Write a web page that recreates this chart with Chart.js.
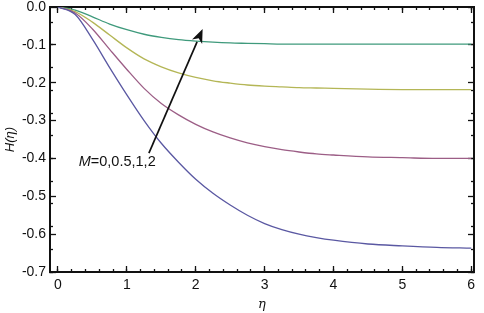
<!DOCTYPE html>
<html>
<head>
<meta charset="utf-8">
<script src="https://cdn.jsdelivr.net/npm/chart.js@4/dist/chart.umd.min.js"></script>
<style>
html,body{margin:0;padding:0;background:#fff;}
#wrap{width:484px;height:313px;position:relative;}
</style>
</head>
<body>
<div id="wrap"><canvas id="c" width="484" height="313"></canvas></div>
<script>
const eta   = [0,0.25,0.5,0.75,1,1.25,1.5,1.75,2,2.25,2.5,2.75,3,3.25,3.5,3.75,4,4.5,5,5.5,6];
const hM0   = [0,-0.02,-0.085,-0.16,-0.232,-0.30,-0.36,-0.41,-0.455,-0.492,-0.523,-0.55,-0.572,-0.588,-0.6,-0.609,-0.616,-0.626,-0.631,-0.635,-0.637];
const hM05  = [0,-0.016,-0.058,-0.112,-0.165,-0.215,-0.255,-0.285,-0.31,-0.33,-0.346,-0.359,-0.369,-0.377,-0.383,-0.388,-0.391,-0.396,-0.398,-0.4,-0.4];
const hM1   = [0,-0.012,-0.04,-0.074,-0.108,-0.137,-0.158,-0.174,-0.186,-0.195,-0.201,-0.206,-0.209,-0.211,-0.213,-0.214,-0.215,-0.217,-0.218,-0.218,-0.218];
const hM2   = [0,-0.008,-0.026,-0.045,-0.06,-0.072,-0.08,-0.086,-0.09,-0.093,-0.095,-0.096,-0.097,-0.098,-0.098,-0.098,-0.098,-0.098,-0.098,-0.098,-0.098];
const seriesLabels = ['M=0','M=0.5','M=1','M=2'];
const xTickLabels = ['0','1','2','3','4','5','6'];
const yTickLabels = ['0.0','-0.1','-0.2','-0.3','-0.4','-0.5','-0.6','-0.7'];
const annotationText = ['M','=0,0.5,1,2'];
const arrowFrom = {x:1.32, y:-0.386};
const arrowTo   = {x:2.10, y:-0.058};
const textAt    = {x:0.86, y:-0.41};
const X_MIN = -0.116, X_MAX = 6.04, Y_MIN = -0.7, Y_MAX = 0;
const X_MINOR_STEP = 0.2, Y_MINOR_STEP = 0.02;

const colors = ['#5a58a2','#9c5e86','#b4b656','#3f9a7c'];
const allSeries = [hM0,hM05,hM1,hM2];

const datasets = allSeries.map((arr,i)=>({
  label: seriesLabels[i],
  data: eta.map((e,j)=>({x:e,y:arr[j]})),
  borderColor: colors[i],
  borderWidth: 1.3,
  pointRadius: 0,
  fill: false,
  cubicInterpolationMode: 'monotone',
  xAxisID: 'x',
  yAxisID: 'y'
}));

const FONT = '"Liberation Sans", Arial, sans-serif';

function minorList(lo, hi, step){
  const out = [];
  const n0 = Math.ceil(lo/step - 1e-9), n1 = Math.floor(hi/step + 1e-9);
  for(let n=n0;n<=n1;n++) out.push({value: +(n*step).toFixed(4)});
  return out;
}

function zeroPad(s){ s.paddingTop = 0; s.paddingBottom = 0; s.paddingLeft = 0; s.paddingRight = 0; }

function axis(o){
  const base = {
    type:'linear',
    grid:{display:true, drawOnChartArea:false, drawTicks:true, tickLength:o.len, tickWidth:1.3, tickColor:'#111'},
    border:{display:!!o.border, width:2, color:'#111'},
    ticks:{color:'#111', font:{family:FONT, size:14}, padding:o.pad||0, maxRotation:0,
      callback:o.cb || (()=>'')},
    position:o.position,
    weight:o.weight||0,
    min:o.min, max:o.max,
    afterBuildTicks:o.build,
    afterFit:(s)=>{ o.fit(s); zeroPad(s); }
  };
  if(o.title) base.title = o.title;
  return base;
}

const labelFor = (list)=> (v)=>{ const i = list.findIndex(t=>Math.abs(parseFloat(t)-v)<1e-9); return i>=0?list[i]:''; };

const decor = {
  id:'decor',
  afterDraw(chart){
    const ctx = chart.ctx, xs = chart.scales.x, ys = chart.scales.y;
    ctx.save();
    ctx.strokeStyle = '#111'; ctx.fillStyle = '#111';
    const x1 = xs.getPixelForValue(arrowFrom.x), y1 = ys.getPixelForValue(arrowFrom.y);
    const x2 = xs.getPixelForValue(arrowTo.x), y2 = ys.getPixelForValue(arrowTo.y);
    const ang = Math.atan2(y2-y1,x2-x1);
    const hl = 14, hw = 5.5;
    const bx = x2 - hl*Math.cos(ang), by = y2 - hl*Math.sin(ang);
    ctx.lineWidth = 1.7;
    ctx.beginPath(); ctx.moveTo(x1,y1); ctx.lineTo(bx,by); ctx.stroke();
    ctx.beginPath();
    ctx.moveTo(x2,y2);
    ctx.lineTo(bx + hw*Math.sin(ang), by - hw*Math.cos(ang));
    ctx.lineTo(x2 - (hl-4)*Math.cos(ang), y2 - (hl-4)*Math.sin(ang));
    ctx.lineTo(bx - hw*Math.sin(ang), by + hw*Math.cos(ang));
    ctx.closePath(); ctx.fill();
    const tx = xs.getPixelForValue(textAt.x), ty = ys.getPixelForValue(textAt.y);
    ctx.textBaseline = 'middle';
    const f1 = 'italic 14.5px ' + FONT, f2 = '14.5px ' + FONT;
    ctx.font = f1; const w1 = ctx.measureText(annotationText[0]).width;
    ctx.font = f2; const w2 = ctx.measureText(annotationText[1]).width;
    const sx = tx - (w1+w2)/2;
    ctx.font = f1; ctx.fillText(annotationText[0], sx, ty);
    ctx.font = f2; ctx.fillText(annotationText[1], sx+w1, ty);
    ctx.restore();
  }
};

new Chart(document.getElementById('c'),{
  type:'line',
  data:{datasets},
  options:{
    responsive:false,
    animation:false,
    events:[],
    layout:{padding:{left:0,right:10,top:7,bottom:0}},
    plugins:{legend:{display:false},tooltip:{enabled:false}},
    scales:{
      x: axis({position:'bottom', weight:1, len:-6, border:true, pad:11, min:X_MIN, max:X_MAX,
        build:(s)=>{ s.ticks = xTickLabels.map(t=>({value:parseFloat(t)})); },
        fit:(s)=>{ s.height = 41; },
        cb: labelFor(xTickLabels),
        title:{display:true, text:'η', color:'#111', padding:{top:2,bottom:1},
          font:{family:'"DejaVu Serif", "Liberation Serif", serif', size:13, style:'italic'}}}),
      xMinor: axis({position:'bottom', weight:0, len:-3, min:X_MIN, max:X_MAX,
        build:(s)=>{ s.ticks = minorList(X_MIN, X_MAX, X_MINOR_STEP); },
        fit:(s)=>{ s.height = 0; }}),
      xTop: axis({position:'top', weight:1, len:-6, border:true, min:X_MIN, max:X_MAX,
        build:(s)=>{ s.ticks = xTickLabels.map(t=>({value:parseFloat(t)})); },
        fit:(s)=>{ s.height = 0; }}),
      xTopMinor: axis({position:'top', weight:0, len:-3, min:X_MIN, max:X_MAX,
        build:(s)=>{ s.ticks = minorList(X_MIN, X_MAX, X_MINOR_STEP); },
        fit:(s)=>{ s.height = 0; }}),
      y: axis({position:'left', weight:1, len:-6, border:true, pad:10, min:Y_MIN, max:Y_MAX,
        build:(s)=>{ s.ticks = yTickLabels.map(t=>({value:parseFloat(t)})); },
        fit:(s)=>{ s.width = 50; },
        cb: labelFor(yTickLabels),
        title:{display:true, text:'H(η)', color:'#111', padding:{top:3,bottom:0},
          font:{family:FONT, size:13, style:'italic'}}}),
      yMinor: axis({position:'left', weight:0, len:-3, min:Y_MIN, max:Y_MAX,
        build:(s)=>{ s.ticks = minorList(Y_MIN, Y_MAX, Y_MINOR_STEP); },
        fit:(s)=>{ s.width = 0; }}),
      yRight: axis({position:'right', weight:1, len:-6, border:true, min:Y_MIN, max:Y_MAX,
        build:(s)=>{ s.ticks = yTickLabels.map(t=>({value:parseFloat(t)})); },
        fit:(s)=>{ s.width = 0; }}),
      yRightMinor: axis({position:'right', weight:0, len:-3, min:Y_MIN, max:Y_MAX,
        build:(s)=>{ s.ticks = minorList(Y_MIN, Y_MAX, Y_MINOR_STEP); },
        fit:(s)=>{ s.width = 0; }})
    }
  },
  plugins:[decor]
});
</script>
</body>
</html>
